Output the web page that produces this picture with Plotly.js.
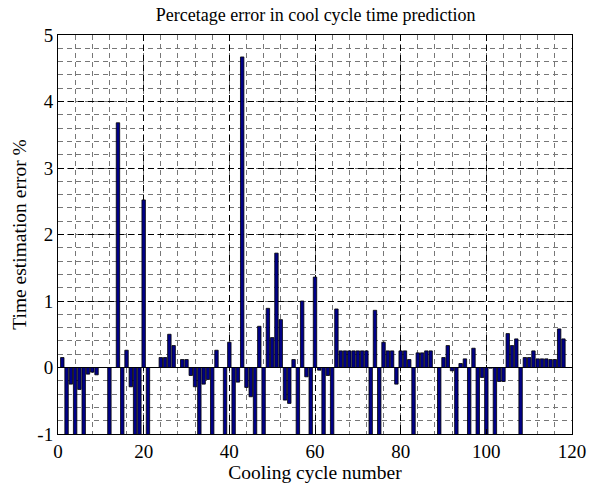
<!DOCTYPE html>
<html>
<head>
<meta charset="utf-8">
<script src="https://cdn.plot.ly/plotly-3.0.1.min.js"></script>
<style>html,body{margin:0;padding:0;background:#fff;}#chart{width:590px;height:486px;}</style>
</head>
<body>
<div id="chart"></div>
<script>
// Cooling cycle numbers
const cycles = [1,2,3,4,5,6,7,8,9,10,11,12,13,14,15,16,17,18,19,20,
  21,22,23,24,25,26,27,28,29,30,31,32,33,34,35,36,37,38,39,40,
  41,42,43,44,45,46,47,48,49,50,51,52,53,54,55,56,57,58,59,60,
  61,62,63,64,65,66,67,68,69,70,71,72,73,74,75,76,77,78,79,80,
  81,82,83,84,85,86,87,88,89,90,91,92,93,94,95,96,97,98,99,100,
  101,102,103,104,105,106,107,108,109,110,111,112,113,114,115,116,117,118];

// Time estimation error % (bars below -1 are clipped in the reference; magnitude estimated)
const errorPct = [
  0.15,-1.2,-0.25,-1.2,-0.33,-1.2,-0.10,-0.07,-0.11,0,
  0,-1.2,0,3.68,-1.2,0.26,-0.29,-1.2,-1.2,2.52,
  -1.2,0,0,0.15,0.15,0.50,0.33,0,0.12,0.12,
  -0.12,-0.29,-1.2,-0.25,-0.18,-1.2,0.26,0,-1.2,0.38,
  -1.2,-0.22,4.67,-0.30,-0.44,-1.2,0.62,-1.2,0.89,0.45,
  1.72,0.72,-0.49,-0.54,0.12,-1.2,1.00,-0.14,-1.2,1.36,
  -0.04,-1.2,-0.12,-1.2,0.88,0.25,0.25,0.25,0.25,0.25,
  0.25,0.25,-1.2,0.86,-1.2,0.38,0.25,0.25,-0.25,0.25,
  0.25,0.12,-1.2,0.22,0.22,0.25,0.25,0,-1.2,0.15,
  0.33,-0.05,-1.2,0.06,0.13,-1.2,0.29,-1.2,-0.15,-1.2,
  -0.01,-1.2,-0.21,-0.21,0.51,0.33,0.43,-1.2,0.15,0.15,
  0.25,0.13,0.13,0.13,0.12,0.12,0.58,0.43];

const xTicks = [0,20,40,60,80,100,120];
const yTicks = [-1,0,1,2,3,4,5];

const serif = 'Liberation Serif, Times New Roman, serif';

const trace = {
  type: 'bar',
  x: cycles,
  y: errorPct,
  width: 0.8,
  marker: {color: '#000088', line: {color: '#000000', width: 0.8}},
  hoverinfo: 'x+y'
};

const axisCommon = {
  showline: true, linecolor: '#000', linewidth: 1, mirror: 'ticks',
  ticks: 'inside', ticklen: 5, tickcolor: '#000',
  showgrid: true, gridcolor: '#000', gridwidth: 1, griddash: '6px,4px',
  tickfont: {family: serif, size: 19, color: '#000'}
};

const layout = {
  width: 590, height: 486,
  margin: {l: 58, r: 18, t: 35, b: 52},
  paper_bgcolor: '#fff', plot_bgcolor: '#fff',
  font: {family: serif, color: '#000'},
  showlegend: false,
  bargap: 0,
  title: {text: 'Percetage error in cool cycle time prediction',
    font: {size: 18, family: serif, color: '#000'},
    x: 0.535, xanchor: 'center', y: 0.97, yanchor: 'middle', yref: 'container'},
  xaxis: Object.assign({}, axisCommon, {
    range: [0, 120], tickvals: xTicks, ticktext: xTicks.map(String),
    zeroline: false,
    minor: {dtick: 4, tick0: 0, showgrid: true, gridcolor: '#777', gridwidth: 1, griddash: '5px,4px', ticks: ''},
    title: {text: 'Cooling cycle number', standoff: 3,
      font: {size: 19.5, family: serif, color: '#000'}}
  }),
  yaxis: Object.assign({}, axisCommon, {
    range: [-1, 5], tickvals: yTicks, ticktext: yTicks.map(String),
    zeroline: true, zerolinecolor: '#000', zerolinewidth: 1.5,
    minor: {dtick: 0.2, tick0: 0, showgrid: true, gridcolor: '#777', gridwidth: 1, griddash: '5px,4px', ticks: ''},
    title: {text: 'Time estimation error %', standoff: 5,
      font: {size: 19.5, family: serif, color: '#000'}}
  })
};

Plotly.newPlot('chart', [trace], layout, {displayModeBar: false, staticPlot: true});
</script>
</body>
</html>
